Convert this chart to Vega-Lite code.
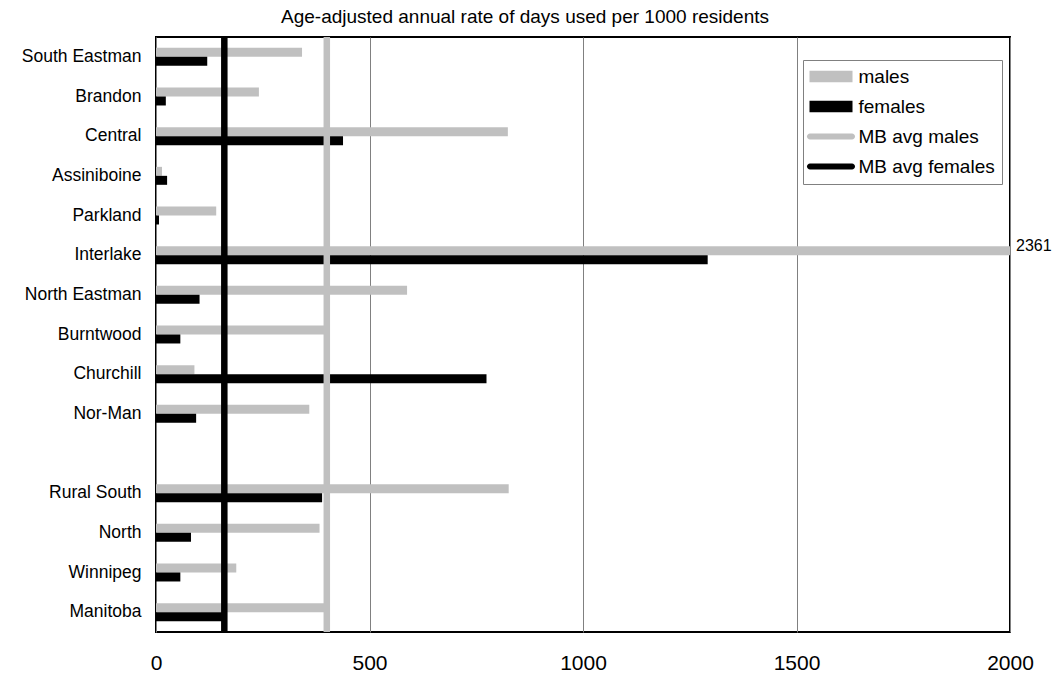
{
  "$schema": "https://vega.github.io/schema/vega-lite/v6.json",
  "width": 854,
  "height": 595,
  "autosize": {"type": "none"},
  "padding": {"left": 156, "top": 37, "right": 50, "bottom": 43},
  "background": "white",
  "title": {
    "text": "Age-adjusted annual rate of days used per 1000 residents",
    "fontSize": 19,
    "font": "Liberation Sans",
    "fontWeight": "normal",
    "color": "black",
    "anchor": "middle",
    "offset": 7,
    "dx": -58
  },
  "config": {
    "view": {"stroke": "black", "strokeWidth": 2},
    "font": "Liberation Sans"
  },
  "datasets": {
    "bars": [
      {"region": "South Eastman", "series": "males", "value": 342},
      {"region": "South Eastman", "series": "females", "value": 120},
      {"region": "Brandon", "series": "males", "value": 241},
      {"region": "Brandon", "series": "females", "value": 23},
      {"region": "Central", "series": "males", "value": 824},
      {"region": "Central", "series": "females", "value": 438},
      {"region": "Assiniboine", "series": "males", "value": 14},
      {"region": "Assiniboine", "series": "females", "value": 26},
      {"region": "Parkland", "series": "males", "value": 141},
      {"region": "Parkland", "series": "females", "value": 7},
      {"region": "Interlake", "series": "males", "value": 2361},
      {"region": "Interlake", "series": "females", "value": 1292},
      {"region": "North Eastman", "series": "males", "value": 588},
      {"region": "North Eastman", "series": "females", "value": 102},
      {"region": "Burntwood", "series": "males", "value": 395},
      {"region": "Burntwood", "series": "females", "value": 57},
      {"region": "Churchill", "series": "males", "value": 90},
      {"region": "Churchill", "series": "females", "value": 774},
      {"region": "Nor-Man", "series": "males", "value": 359},
      {"region": "Nor-Man", "series": "females", "value": 94},
      {"region": "Rural South", "series": "males", "value": 826},
      {"region": "Rural South", "series": "females", "value": 389},
      {"region": "North", "series": "males", "value": 383},
      {"region": "North", "series": "females", "value": 82},
      {"region": "Winnipeg", "series": "males", "value": 188},
      {"region": "Winnipeg", "series": "females", "value": 57},
      {"region": "Manitoba", "series": "males", "value": 400},
      {"region": "Manitoba", "series": "females", "value": 160}
    ],
    "avg": [
      {"series": "MB avg males", "value": 400},
      {"series": "MB avg females", "value": 160}
    ]
  },
  "layer": [
    {
      "data": {"name": "bars"},
      "mark": {"type": "bar"},
      "encoding": {
        "y": {
          "field": "region",
          "type": "nominal",
          "scale": {
            "domain": ["South Eastman", "Brandon", "Central", "Assiniboine", "Parkland", "Interlake", "North Eastman", "Burntwood", "Churchill", "Nor-Man", " ", "Rural South", "North", "Winnipeg", "Manitoba"],
            "paddingInner": 0.547,
            "paddingOuter": 0.2735
          },
          "axis": {
            "title": null,
            "labelFont": "Liberation Sans",
            "labelFontSize": 17.5,
            "labelColor": "black",
            "labelPadding": 15,
            "ticks": false,
            "domain": false,
            "grid": false,
            "labelLimit": 300
          }
        },
        "yOffset": {
          "field": "series",
          "type": "nominal",
          "scale": {"domain": ["males", "females"], "paddingInner": 0, "paddingOuter": 0}
        },
        "x": {
          "field": "value",
          "type": "quantitative",
          "scale": {"domain": [0, 2000], "clamp": true, "nice": false},
          "axis": {
            "title": null,
            "values": [0, 500, 1000, 1500, 2000],
            "format": "d",
            "grid": true,
            "gridColor": "#808080",
            "gridWidth": 1,
            "gridOpacity": 1,
            "domain": false,
            "ticks": false,
            "labelFont": "Liberation Sans",
            "labelFontSize": 21,
            "labelColor": "black",
            "labelPadding": 20,
            "labelFlush": false,
            "labelOverlap": false
          }
        },
        "color": {
          "field": "series",
          "type": "nominal",
          "scale": {
            "domain": ["males", "females", "MB avg males", "MB avg females"],
            "range": ["#c0c0c0", "#000000", "#c0c0c0", "#000000"]
          },
          "legend": {
            "title": null,
            "orient": "none",
            "legendX": 647,
            "legendY": 23,
            "strokeColor": "#808080",
            "fillColor": "white",
            "padding": 7,
            "rowPadding": 10,
            "symbolSize": 100,
            "symbolStrokeWidth": 0,
            "symbolOffset": 11.5,
            "labelOffset": 18,
            "labelFont": "Liberation Sans",
            "labelFontSize": 19,
            "labelColor": "black",
            "labelLimit": 300,
            "symbolOpacity": 1,
            "encode": {
              "symbols": {
                "update": {
                  "shape": {"signal": "indexof(datum.value, 'MB') >= 0 ? 'M-4.2,-0.6H4.2A0.6,0.6,0,0,1,4.2,0.6H-4.2A0.6,0.6,0,0,1,-4.2,-0.6Z' : 'M-4.3,-1.17H4.3V1.17H-4.3Z'"},
                  "fill": {"signal": "indexof(datum.value, 'females') >= 0 ? '#000000' : '#c0c0c0'"},
                  "stroke": {"value": "transparent"},
                  "opacity": {"value": 1}
                }
              }
            }
          }
        }
      }
    },
    {
      "data": {"name": "avg"},
      "mark": {"type": "rule", "strokeWidth": 6.5},
      "encoding": {
        "x": {"field": "value", "type": "quantitative"},
        "color": {"field": "series", "type": "nominal"}
      }
    },
    {
      "data": {"name": "bars"},
      "transform": [{"filter": "datum.value > 2000"}],
      "mark": {"type": "text", "align": "left", "baseline": "middle", "dx": 6, "dy": -5, "fontSize": 16, "font": "Liberation Sans", "color": "black"},
      "encoding": {
        "y": {"field": "region", "type": "nominal"},
        "yOffset": {"field": "series", "type": "nominal"},
        "x": {"field": "value", "type": "quantitative"},
        "text": {"field": "value", "type": "quantitative", "format": "d"}
      }
    }
  ]
}
